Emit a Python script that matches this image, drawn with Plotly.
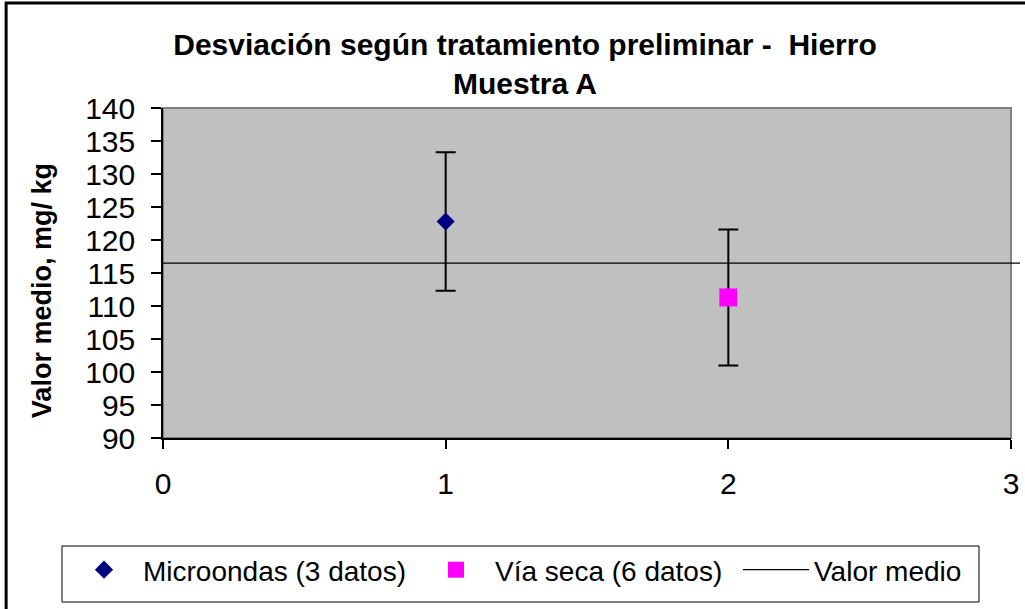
import plotly.graph_objects as go

# data
micro_x = [1]
micro_y = [122.8]
micro_err = [10.5]

seca_x = [2]
seca_y = [111.3]
seca_err = [10.3]

mean_value = 116.5

x_ticks = [0, 1, 2, 3]
y_ticks = [90, 95, 100, 105, 110, 115, 120, 125, 130, 135, 140]

font_family = "Arial, Liberation Sans, sans-serif"

fig = go.Figure()

fig.add_trace(go.Scatter(
    x=micro_x, y=micro_y,
    name="Microondas (3 datos)",
    mode="markers",
    marker=dict(symbol="diamond", size=14, color="#000080"),
    error_y=dict(type="data", array=micro_err, color="black", thickness=2, width=10),
    legend="legend",
))

fig.add_trace(go.Scatter(
    x=seca_x, y=seca_y,
    name="Vía seca (6 datos)",
    mode="markers",
    marker=dict(symbol="square", size=18, color="#FF00FF"),
    error_y=dict(type="data", array=seca_err, color="black", thickness=2, width=10),
    legend="legend2",
))

# plot area frame (grey edge like Excel)
fig.add_shape(type="rect", xref="paper", yref="paper", x0=0, x1=1, y0=0, y1=1,
              line=dict(color="#808080", width=2), layer="below")

# mean line, runs slightly past the right edge of the plot area
fig.add_shape(type="line", xref="paper", yref="y", x0=0, x1=1.0106,
              y0=mean_value, y1=mean_value,
              line=dict(color="black", width=1.2),
              showlegend=True, name="Valor medio", legend="legend3")

# outer chart border
fig.add_shape(type="rect", xref="paper", yref="paper",
              x0=-0.185, x1=1.03, y0=-0.53, y1=1.318,
              line=dict(color="black", width=3), layer="below")

# legend box
fig.add_shape(type="rect", xref="paper", yref="paper",
              x0=(62 - 163) / 848, x1=(979 - 163) / 848,
              y0=(438 - 602) / 330, y1=(438 - 546) / 330,
              line=dict(color="black", width=1), layer="below")

# y axis title
fig.add_annotation(text="<b>Valor medio, mg/ kg</b>", textangle=-90,
                   xref="paper", yref="paper", x=-0.1427, y=0.448,
                   xanchor="center", yanchor="middle",
                   showarrow=False, font=dict(family=font_family, size=27, color="black"))

width = 1025
height = 609

legend_common = dict(
    orientation="h",
    xref="container", xanchor="left",
    yref="container", y=1 - 570 / 609, yanchor="middle",
    bgcolor="rgba(0,0,0,0)", borderwidth=0,
    font=dict(family=font_family, size=28, color="black"),
)

fig.update_layout(
    width=width,
    height=height,
    margin=dict(l=163, r=14, t=108, b=171, autoexpand=False),
    paper_bgcolor="white",
    plot_bgcolor="#C0C0C0",
    font=dict(family=font_family, color="black", size=28),
    title=dict(
        text="<b>Desviación según tratamiento preliminar -  Hierro<br>Muestra A</b>",
        font=dict(family=font_family, size=30, color="black"),
        xref="container", x=525 / 1025, xanchor="center",
        yref="container", y=1 - 55 / 609, yanchor="middle",
    ),
    legend=dict(legend_common, x=65 / 1025, itemwidth=68),
    legend2=dict(legend_common, x=417 / 1025, itemwidth=68),
    legend3=dict(legend_common, x=738 / 1025, itemwidth=66),
    showlegend=True,
)

fig.update_xaxes(
    range=[0, 3], tickvals=x_ticks,
    showgrid=False, zeroline=False, automargin=False,
    showline=True, linecolor="black", linewidth=1.5,
    ticks="outside", ticklen=9, tickcolor="black", tickwidth=1.5,
    ticklabelstandoff=9,
    tickfont=dict(size=30),
)
fig.update_yaxes(
    range=[90, 140], tickvals=y_ticks,
    showgrid=False, zeroline=False, automargin=False,
    showline=True, linecolor="black", linewidth=1.5,
    ticks="outside", ticklen=10, tickcolor="black", tickwidth=1.5,
    ticklabelstandoff=10,
    tickfont=dict(size=30),
)

fig.write_html("out.html", config={"displayModeBar": False},
               post_script="document.body.style.margin='0px';")
